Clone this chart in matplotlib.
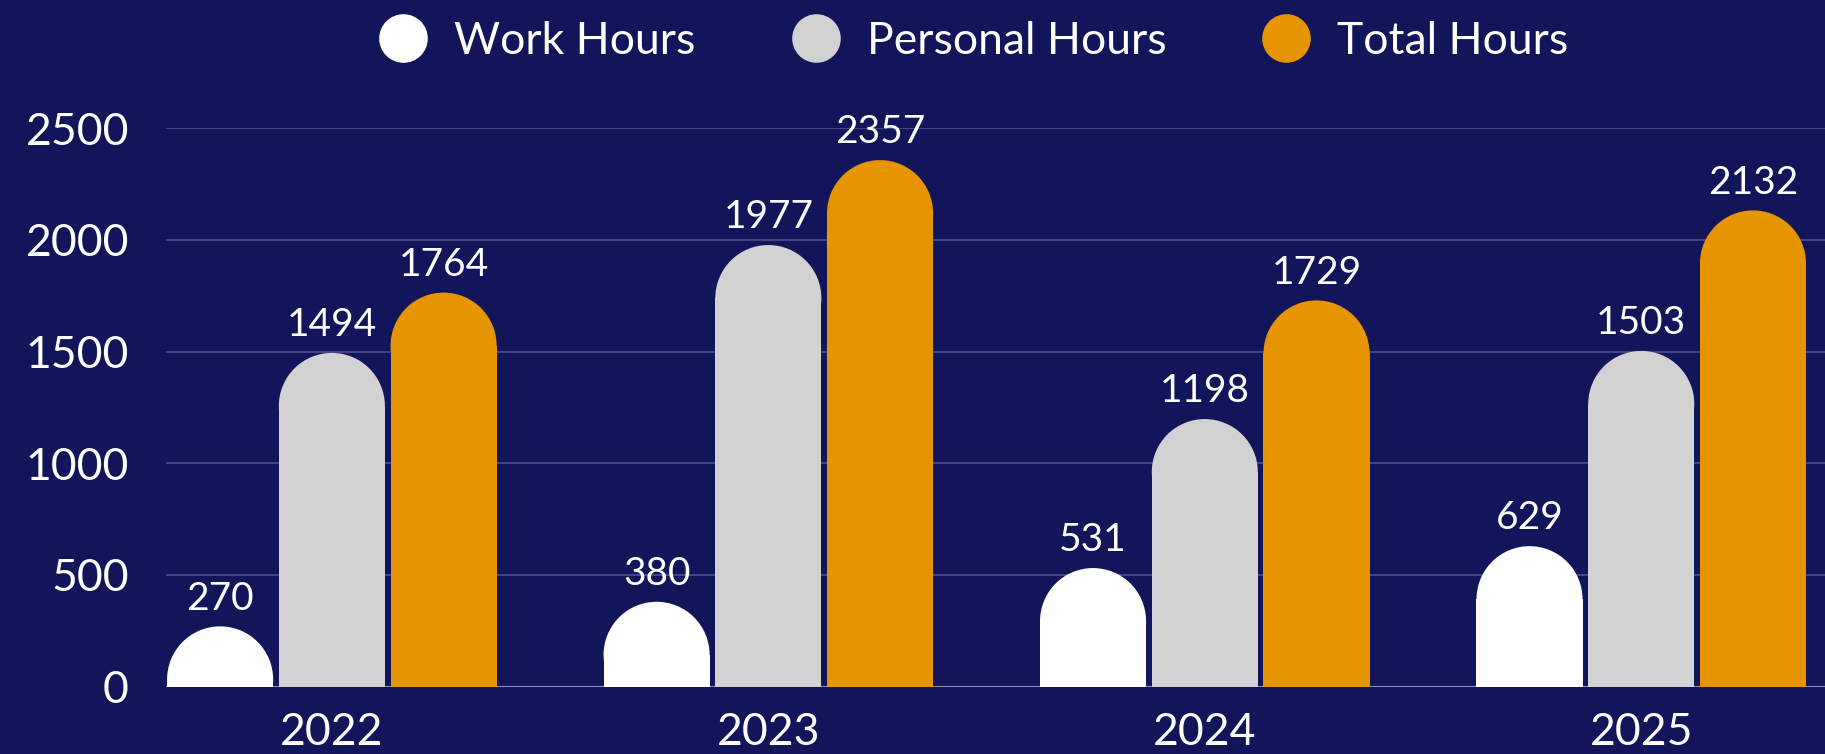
import matplotlib
matplotlib.use("Agg")
import matplotlib.pyplot as plt
from matplotlib.patches import Ellipse
from matplotlib.lines import Line2D
import numpy as np

years = ["2022", "2023", "2024", "2025"]
work_hours = [270, 380, 531, 629]
personal_hours = [1494, 1977, 1198, 1503]
total_hours = [1764, 2357, 1729, 2132]
series_names = ["Work Hours", "Personal Hours", "Total Hours"]

BG = "#12155a"
colors = ["#ffffff", "#d2d2d2", "#e69500"]

plt.rcParams['font.family'] = ['Lato', 'DejaVu Sans']

fig = plt.figure(figsize=(18.25, 7.54), dpi=100, facecolor=BG)
ax = fig.add_axes([0.0912, 0.0893, 0.9088, 0.7407])
ax.set_facecolor(BG)

ax.set_xlim(-0.379, 3.421)
ax.set_ylim(0, 2500)

x = np.arange(len(years))
width = 0.243
step = 0.256

# radius of the rounded cap, converted into y data units
fig.canvas.draw()
p0 = ax.transData.transform((0, 0))
p1 = ax.transData.transform((width, 1000))
r_px = (p1[0] - p0[0]) / 2
ry = r_px / ((p1[1] - p0[1]) / 1000)

all_series = [work_hours, personal_hours, total_hours]
for i, vals in enumerate(all_series):
    xs = x + (i - 1) * step
    body = [max(v - ry, 0) for v in vals]
    ax.bar(xs, body, width=width, color=colors[i], linewidth=0, zorder=3)
    for xi, v in zip(xs, vals):
        ax.add_patch(Ellipse((xi, v - ry), width, 2 * ry, color=colors[i],
                             linewidth=0, zorder=3))
        ax.annotate(str(v), (xi, v), xytext=(0, 7), textcoords="offset points",
                    ha="center", va="bottom", color="white", fontsize=28,
                    zorder=4)

ax.set_yticks([0, 500, 1000, 1500, 2000, 2500])
ax.yaxis.grid(True, color="#4c5089", linewidth=1.2, zorder=0)
ax.axhline(0, color="#8a8cb0", linewidth=1.5, zorder=2)
ax.set_axisbelow(True)
ax.set_xticks(x)
ax.set_xticklabels(years)
ax.tick_params(axis="y", length=0, pad=27, labelsize=32, labelcolor="white")
ax.tick_params(axis="x", length=0, pad=18, labelsize=32, labelcolor="white")
for s in ax.spines.values():
    s.set_visible(False)

handles = [Line2D([0], [0], marker="o", linestyle="none", markersize=35,
                  markerfacecolor=c, markeredgewidth=0) for c in colors]
fig.legend(handles, series_names, loc="center", bbox_to_anchor=(0.528, 0.945),
           ncol=3, frameon=False, fontsize=32, labelcolor="white",
           handletextpad=0.15, columnspacing=1.7)

fig.savefig("out.png", dpi=100, facecolor=BG)
